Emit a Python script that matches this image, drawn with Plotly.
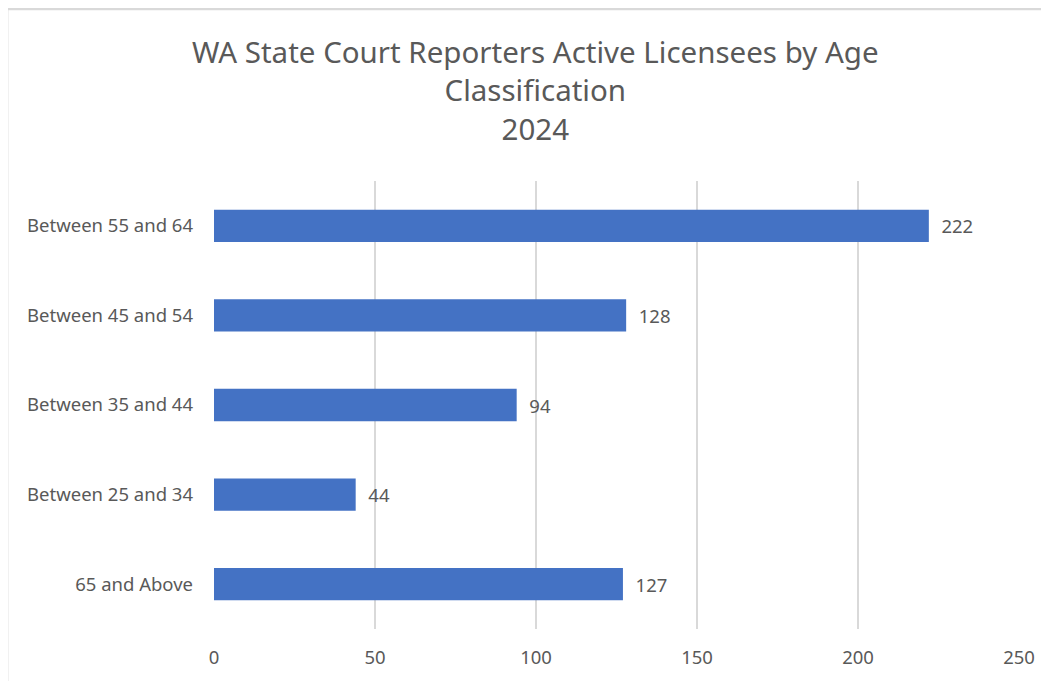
import plotly.graph_objects as go

AGE_GROUPS = ["Between 55 and 64", "Between 45 and 54", "Between 35 and 44",
              "Between 25 and 34", "65 and Above"]
LICENSEES = [222, 128, 94, 44, 127]
X_TICKS = [0, 50, 100, 150, 200, 250]
TITLE = "WA State Court Reporters Active Licensees by Age<br>Classification<br>2024"

BAR_COLOR = "#4472C4"
TEXT_COLOR = "#595959"
GRID_COLOR = "#D9D9D9"
FONT = "Noto Sans"

fig = go.Figure()

fig.add_trace(go.Bar(
    x=LICENSEES,
    y=AGE_GROUPS,
    orientation="h",
    width=0.36,
    marker=dict(color=BAR_COLOR, line_width=0),
    text=[f"  {v}" for v in LICENSEES],
    textposition="outside",
    textfont=dict(size=18.5, color=TEXT_COLOR, family=FONT),
    cliponaxis=False,
    showlegend=False,
))

# chart border (only top and left visible in the frame)
fig.add_shape(type="rect", xref="paper", yref="paper",
              x0=-0.257, x1=1.2, y0=-0.3, y1=1.384,
              line=dict(color=GRID_COLOR, width=2.5), layer="below")

fig.add_annotation(
    text=TITLE, xref="paper", yref="paper", x=0.399, y=1.203,
    xanchor="center", yanchor="middle", showarrow=False,
    font=dict(size=29.5, color=TEXT_COLOR, family=FONT),
)

fig.update_layout(
    xaxis=dict(
        range=[0, 250], tickvals=X_TICKS, showgrid=True, gridcolor=GRID_COLOR,
        gridwidth=1.5, zeroline=False, showline=False,
        tickfont=dict(size=18.5, color=TEXT_COLOR, family=FONT),
        ticklabelstandoff=15,
    ),
    yaxis=dict(
        categoryorder="array", categoryarray=AGE_GROUPS, autorange="reversed",
        showgrid=False, zeroline=False, showline=False,
        tickfont=dict(size=18.5, color=TEXT_COLOR, family=FONT),
        ticklabelstandoff=20,
    ),
    plot_bgcolor="white",
    paper_bgcolor="white",
    width=1041, height=673,
    margin=dict(l=206, r=30, t=173, b=52),
)

fig.write_html("out.html")
